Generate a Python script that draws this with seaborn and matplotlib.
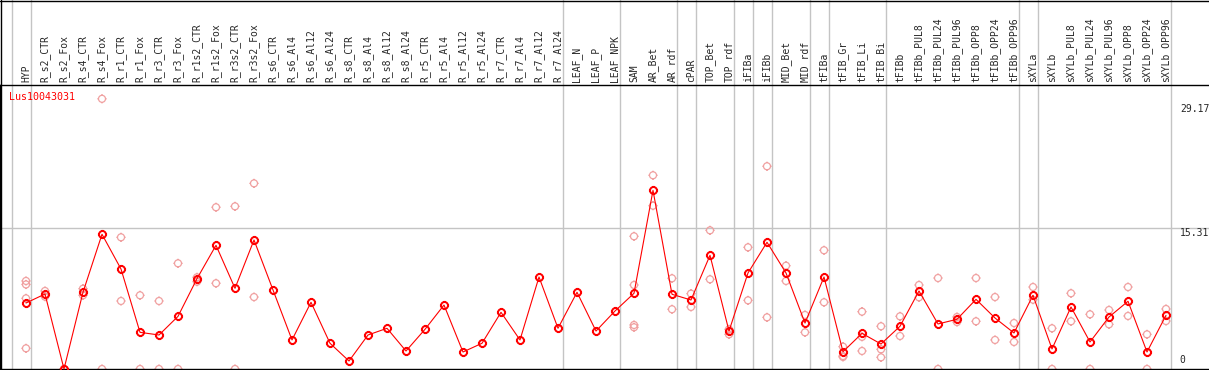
import numpy as np
import pandas as pd
import seaborn as sns
import matplotlib
matplotlib.use("Agg")
from matplotlib import pyplot as plt
from matplotlib.path import Path
from matplotlib.lines import Line2D

# probe / gene shown
gene = "Lus10043031"

labels = ["HYP", "R_s2_CTR", "R_s2_Fox", "R_s4_CTR", "R_s4_Fox", "R_r1_CTR", "R_r1_Fox",
          "R_r3_CTR", "R_r3_Fox", "R_r1s2_CTR", "R_r1s2_Fox", "R_r3s2_CTR", "R_r3s2_Fox",
          "R_s6_CTR", "R_s6_Al4", "R_s6_Al12", "R_s6_Al24", "R_s8_CTR", "R_s8_Al4",
          "R_s8_Al12", "R_s8_Al24", "R_r5_CTR", "R_r5_Al4", "R_r5_Al12", "R_r5_Al24",
          "R_r7_CTR", "R_r7_Al4", "R_r7_Al12", "R_r7_Al24", "LEAF_N", "LEAF_P", "LEAF_NPK",
          "SAM", "AR_Bet", "AR_rdf", "cPAR", "TOP_Bet", "TOP_rdf", "iFIBa", "iFIBb",
          "MID_Bet", "MID_rdf", "tFIBa", "tFIB_Gr", "tFIB_Li", "tFIB_Bi", "tFIBb",
          "tFIBb_PUL8", "tFIBb_PUL24", "tFIBb_PUL96", "tFIBb_OPP8", "tFIBb_OPP24",
          "tFIBb_OPP96", "sXYLa", "sXYLb", "sXYLb_PUL8", "sXYLb_PUL24", "sXYLb_PUL96",
          "sXYLb_OPP8", "sXYLb_OPP24", "sXYLb_OPP96"]

# mean expression per sample (red line)
means = [7.18, 8.16, 0.0, 8.35, 14.66, 10.88, 3.99, 3.70, 5.73, 9.83, 13.46, 8.78, 14.04,
         8.60, 3.16, 7.26, 2.80, 0.87, 3.70, 4.43, 1.96, 4.32, 6.96, 1.85, 2.80,
         6.17, 3.16, 10.01, 4.43, 8.35, 4.13, 6.31,
         8.24, 19.44, 8.13, 7.51, 12.37, 4.13, 10.45, 13.79, 10.45, 5.00, 10.01,
         1.88, 3.88, 2.72, 4.65, 8.49, 4.90, 5.41, 7.58, 5.55, 3.92,
         8.02, 2.18, 6.75, 2.94, 5.66, 7.37, 1.85, 5.84]

# individual replicates (pink circles)
replicates = [[9.58, 9.20, 7.69, 2.25], [8.49, 7.87], [0.0, 0.0], [8.74, 8.02], [29.4, 0.0],
              [14.33, 7.40], [8.02, 0.0], [7.40, 0.0], [11.5, 0.0], [9.98, 9.50],
              [17.6, 9.33], [17.7, 0.0], [20.2, 7.83],
              [], [], [], [], [], [], [], [], [], [], [], [], [], [], [], [], [], [], [],
              [14.44, 9.14, 4.79, 4.54], [21.08, 17.77], [9.87, 6.50], [8.20, 6.75],
              [15.09, 9.76], [4.32, 3.77], [13.24, 7.47], [22.06, 5.62], [11.24, 9.58],
              [5.88, 3.99], [12.92, 7.26], [2.43, 1.41, 1.31], [6.24, 3.50, 1.96],
              [4.65, 2.14, 1.27], [5.73, 3.59], [9.14, 7.80], [9.90, 0.0], [5.66, 5.11],
              [9.90, 5.19], [7.83, 3.16], [5.00, 2.94], [8.92, 7.54], [4.43, 0.0],
              [8.24, 5.19], [5.95, 0.0], [6.42, 4.86], [8.92, 5.77], [3.77, 0.0],
              [6.53, 5.22]]

# last sample of each tissue group
group_ends = [-1, 0, 28, 31, 34, 35, 37, 38, 39, 41, 42, 45, 52, 53, 60]

scale_labels = ["29.17", "15.31", "0"]
scale_values = [29.17, 15.31, 0.0]

pos = np.arange(len(labels))
df_mean = pd.DataFrame({"pos": pos, "value": means})
df_rep = pd.DataFrame([(i, v) for i, vals in enumerate(replicates) for v in vals],
                      columns=["pos", "value"])

sns.set_style("white")
plt.rcParams["font.family"] = ["DejaVu Sans Mono", "DejaVu Sans"]

W, H = 1209, 370
top_px, base_px = 85, 369
px_per_unit = 9.19
fig = plt.figure(figsize=(W / 100, H / 100), dpi=100)
ax = fig.add_axes([0, (H - base_px) / H, 1, (base_px - top_px) / H])

# circle with small ticks, like the original marker
stub = 1.32
ticks = Path([(0, 1), (0, stub), (0, -1), (0, -stub), (1, 0), (stub, 0), (-1, 0), (-stub, 0)],
             [Path.MOVETO, Path.LINETO] * 4)
tick_circle = Path.make_compound_path(Path.unit_circle(), ticks)

ax.axhline(scale_values[1], color="#c4c4c4", lw=1.0, zorder=1)
for g in group_ends:
    ax.axvline(g + 0.24, ymin=0, ymax=(base_px + 1) / (base_px - top_px), color="#c4c4c4",
               lw=1.0, clip_on=False, zorder=1)

sns.scatterplot(data=df_rep, x="pos", y="value", ax=ax, marker=tick_circle, s=44,
                facecolors="none", edgecolor="#f0a0a0", linewidth=0.9, zorder=2, clip_on=False)
sns.lineplot(data=df_mean, x="pos", y="value", ax=ax, color="red", lw=0.8, errorbar=None,
             marker=tick_circle, markersize=6.6, markerfacecolor="none",
             markeredgecolor="red", markeredgewidth=1.4, zorder=3, clip_on=False)

ax.set_xlim(-26 / 19, (W - 26) / 19)
ax.set_ylim(0, (base_px - top_px) / px_per_unit)
ax.set_xlabel("")
ax.set_ylabel("")
ax.set_yticks([])
ax.xaxis.tick_top()
ax.set_xticks(pos, labels=labels, rotation=90, fontsize=7)
ax.tick_params(axis="x", length=0, pad=2)

for s in ["top", "left", "bottom"]:
    ax.spines[s].set_color("black")
    ax.spines[s].set_linewidth(1.0)
ax.spines["right"].set_visible(False)

ax.text(-0.89, (base_px - 97) / px_per_unit, gene, color="red", fontsize=7.2,
        ha="left", va="center")
ax.text(60.74, scale_values[0] - 0.35, scale_labels[0], fontsize=7, ha="left", va="top")
ax.text(60.74, scale_values[1], scale_labels[1], fontsize=7, ha="left", va="top")
ax.text(60.68, scale_values[2] + 0.4, scale_labels[2], fontsize=7, ha="left", va="bottom")

# outer frame of the header
fig.add_artist(Line2D([0, 1], [1 - 0.5 / H, 1 - 0.5 / H], color="black", lw=1.0))
fig.add_artist(Line2D([1 / W, 1 / W], [0, 1], color="black", lw=1.0))

fig.savefig("out.png", dpi=100)
